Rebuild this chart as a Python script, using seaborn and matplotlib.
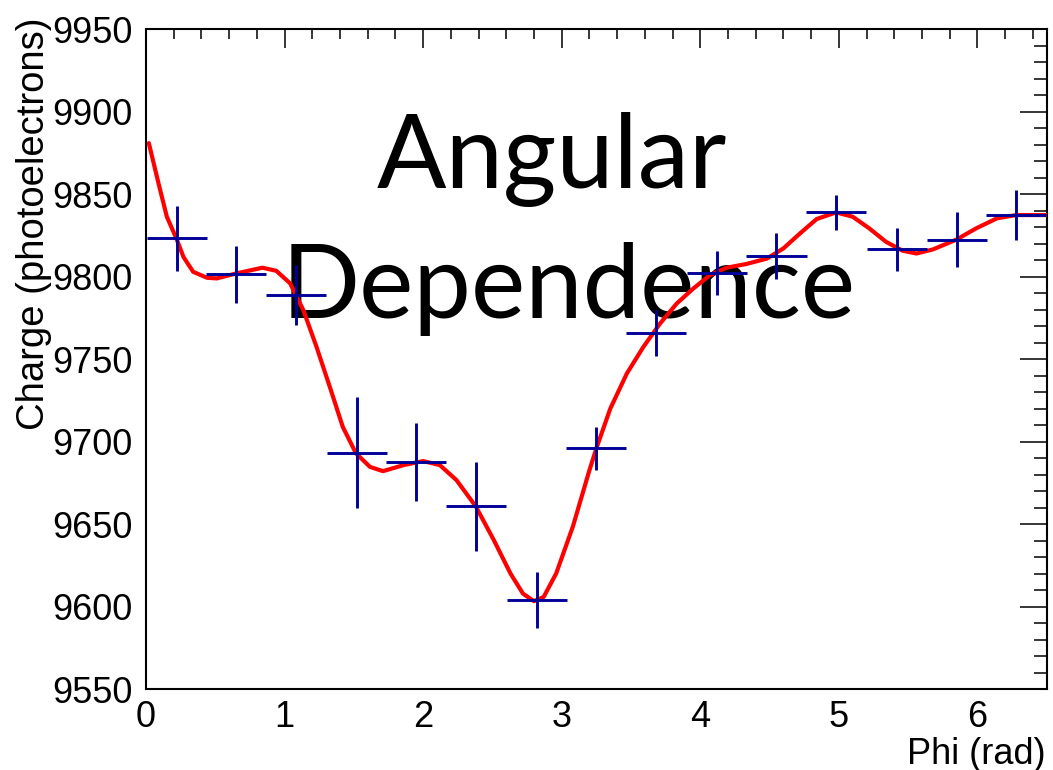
import numpy as np
import pandas as pd
import matplotlib
matplotlib.use("Agg")
import matplotlib.pyplot as plt
import seaborn as sns

# binned charge vs phi (15 bins over 0..6.5 rad)
phi_centers = [0.22, 0.65, 1.08, 1.52, 1.95, 2.38, 2.82, 3.25, 3.68, 4.12, 4.55, 4.98, 5.42, 5.85, 6.28]
charge = [9823.2, 9801.4, 9788.9, 9693.5, 9687.9, 9660.8, 9604.0, 9696.2, 9766.0,
          9802.4, 9812.7, 9839.0, 9816.8, 9822.4, 9837.4]
charge_err = [19.8, 17.5, 18.0, 33.6, 23.5, 27.0, 17.0, 13.0, 13.8,
              13.3, 14.0, 10.4, 13.0, 16.7, 15.0]
bin_half = 0.2167

# fitted curve
fit_phi = [0.02, 0.09, 0.15, 0.22, 0.27, 0.34, 0.44, 0.51, 0.65, 0.84, 0.94, 1.04,
           1.135, 1.23, 1.33, 1.42, 1.515, 1.616, 1.71, 1.86, 2.0, 2.12, 2.24, 2.38,
           2.51, 2.63, 2.72, 2.80, 2.87, 2.96, 3.08, 3.20, 3.25, 3.35, 3.47, 3.59,
           3.71, 3.83, 3.95, 4.07, 4.19, 4.33, 4.48, 4.60, 4.72, 4.84, 4.98, 5.10,
           5.22, 5.34, 5.46, 5.56, 5.68, 5.85, 5.99, 6.14, 6.28, 6.5]
fit_charge = [9881.0, 9856.6, 9836.4, 9823.0, 9812.0, 9803.0, 9799.4, 9799.0,
              9802.0, 9805.5, 9803.6, 9796.0, 9779.8, 9757.6, 9732.3, 9709.0, 9693.0,
              9684.8, 9682.2, 9685.9, 9688.3, 9685.9, 9676.8, 9660.8, 9640.4, 9620.2,
              9608.0, 9603.4, 9606.0, 9620.2, 9648.5, 9682.8, 9696.0, 9720.0, 9741.4,
              9757.6, 9771.7, 9783.8, 9792.9, 9801.0, 9805.5, 9807.7, 9811.0, 9817.2,
              9826.3, 9835.0, 9839.0, 9836.4, 9829.3, 9821.2, 9815.8, 9814.1, 9816.6,
              9822.6, 9829.3, 9835.4, 9837.4, 9837.4]

sns.set_theme(style="white")
plt.rcParams['font.family'] = ['Liberation Sans', 'DejaVu Sans']
plt.rcParams['text.color'] = 'black'
plt.rcParams['xtick.color'] = 'black'
plt.rcParams['ytick.color'] = 'black'
plt.rcParams['axes.labelcolor'] = 'black'

fig = plt.figure(figsize=(10.53, 7.70), dpi=100)
ax = fig.add_axes([0.1387, 0.1048, 0.8553, 0.8572])

fit = pd.DataFrame({'phi': fit_phi, 'charge': fit_charge})
sns.lineplot(data=fit, x='phi', y='charge', color='#ff0000', lw=3.0, ax=ax,
             estimator=None, sort=True, zorder=3)
ax.errorbar(phi_centers, charge, xerr=bin_half, yerr=charge_err, fmt='none',
            ecolor='#000099', elinewidth=2.1, capsize=0, zorder=4)

ax.set_xlim(0, 6.5)
ax.set_ylim(9550, 9950)
ax.set_xticks(np.arange(0, 7, 1))
ax.set_xticks(np.arange(0, 6.6, 0.2), minor=True)
ax.set_yticks(np.arange(9550, 9951, 50))
ax.set_yticks(np.arange(9550, 9951, 10), minor=True)
ax.tick_params(which='both', direction='in', top=True, right=True, color='black',
               width=1.1, labelsize=26, labelcolor='black')
ax.tick_params(axis='y', which='major', length=19.5, pad=10)
ax.tick_params(axis='y', which='minor', length=9.5)
ax.tick_params(axis='x', which='major', length=14, pad=8)
ax.tick_params(axis='x', which='minor', length=7)
for s in ax.spines.values():
    s.set_color('black')
    s.set_linewidth(1.5)
ax.set_xlabel('')
ax.set_ylabel('')

fig.text(34 / 1053, 1 - 18 / 770, 'Charge (photoelectrons)', rotation=90,
         ha='center', va='top', fontsize=27.5, color='black')
fig.text(1046 / 1053, 1 - 764 / 770, 'Phi (rad)', ha='right', va='baseline',
         fontsize=26, color='black')

ax.text(552 / 1053, 1 - 188 / 770, 'Angular', transform=fig.transFigure,
        ha='center', va='baseline', fontsize=74, family='Lato', color='black', zorder=1)
ax.text(569 / 1053, 1 - 318 / 770, 'Dependence', transform=fig.transFigure,
        ha='center', va='baseline', fontsize=74, family='Lato', color='black', zorder=1)

fig.savefig('out.png', dpi=100)
